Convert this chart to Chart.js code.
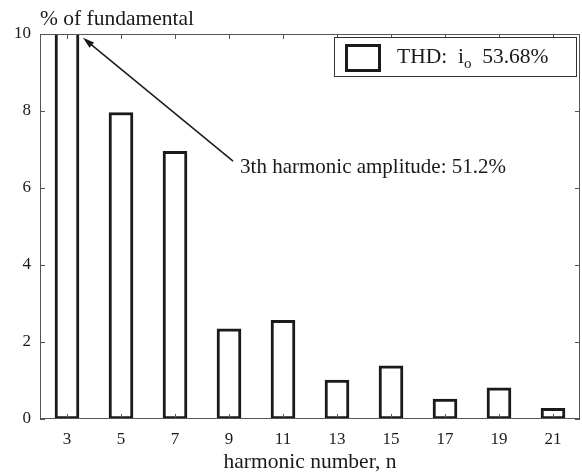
<!DOCTYPE html>
<html>
<head>
<meta charset="utf-8">
<script src="https://cdn.jsdelivr.net/npm/chart.js@4/dist/chart.umd.min.js"></script>
<style>
  body { margin: 0; background: #fff; }
  canvas { display: block; }
</style>
</head>
<body>
<canvas id="thdChart" width="582" height="472"></canvas>
<script>
// harmonic spectrum of the output current, % of fundamental
const harmonics = [3, 5, 7, 9, 11, 13, 15, 17, 19, 21];
const amplitude = [51.2, 7.96, 6.95, 2.34, 2.56, 1.01, 1.38, 0.52, 0.81, 0.28];
const yTicks = [0, 2, 4, 6, 8, 10];
const thdText = '53.68%';
const noteText = '3th harmonic amplitude: 51.2%';

const serif = "'Liberation Serif', 'DejaVu Serif', serif";
const ink = '#1a1a1a';
const bigFont = '21.5px ' + serif;

// box round the plot with inward ticks, legend, arrow note and axis titles
const framePlugin = {
  id: 'frame',
  afterDatasetsDraw(chart) {
    const ctx = chart.ctx;
    const a = chart.chartArea;
    const xs = chart.scales.x;
    const ys = chart.scales.y;
    ctx.save();

    ctx.strokeStyle = '#555';
    ctx.lineWidth = 1;
    ctx.strokeRect(Math.round(a.left) + 0.5, Math.round(a.top) + 0.5,
      Math.round(a.right - a.left) - 1, Math.round(a.bottom - a.top) - 1);

    const tick = 5;
    ctx.beginPath();
    harmonics.forEach(h => {
      const px = Math.round(xs.getPixelForValue(h)) + 0.5;
      ctx.moveTo(px, a.bottom); ctx.lineTo(px, a.bottom - tick);
      ctx.moveTo(px, a.top); ctx.lineTo(px, a.top + tick);
    });
    yTicks.forEach(v => {
      const py = Math.round(ys.getPixelForValue(v)) + 0.5;
      ctx.moveTo(a.left, py); ctx.lineTo(a.left + tick, py);
      ctx.moveTo(a.right, py); ctx.lineTo(a.right - tick, py);
    });
    ctx.stroke();

    // legend box
    const lx = a.right - 246, ly = a.top + 3, lw = 242, lh = 39;
    ctx.fillStyle = '#fff';
    ctx.fillRect(lx, ly, lw, lh);
    ctx.strokeStyle = '#333';
    ctx.lineWidth = 1;
    ctx.strokeRect(lx + 0.5, ly + 0.5, lw, lh);
    ctx.strokeStyle = ink;
    ctx.lineWidth = 3;
    ctx.strokeRect(lx + 12.5, ly + 8.5, 33, 25);

    ctx.fillStyle = ink;
    ctx.textBaseline = 'alphabetic';
    ctx.textAlign = 'left';
    ctx.font = bigFont;
    let tx = lx + 63;
    const base = ly + 26;
    ctx.fillText('THD:  i', tx, base);
    tx += ctx.measureText('THD:  i').width;
    ctx.font = '15px ' + serif;
    ctx.fillText('o', tx, base + 5);
    tx += ctx.measureText('o').width;
    ctx.font = bigFont;
    ctx.fillText('  ' + thdText, tx, base);

    // arrow to the clipped 3rd harmonic bar
    const tipX = xs.getPixelForValue(3.59), tipY = ys.getPixelForValue(9.9);
    const tailX = xs.getPixelForValue(9.15), tailY = ys.getPixelForValue(6.7);
    const ang = Math.atan2(tipY - tailY, tipX - tailX);
    ctx.strokeStyle = ink;
    ctx.lineWidth = 1.5;
    ctx.beginPath();
    ctx.moveTo(tailX, tailY);
    ctx.lineTo(tipX - 8 * Math.cos(ang), tipY - 8 * Math.sin(ang));
    ctx.stroke();
    ctx.beginPath();
    ctx.moveTo(tipX, tipY);
    ctx.lineTo(tipX - 12 * Math.cos(ang - 0.3), tipY - 12 * Math.sin(ang - 0.3));
    ctx.lineTo(tipX - 12 * Math.cos(ang + 0.3), tipY - 12 * Math.sin(ang + 0.3));
    ctx.closePath();
    ctx.fill();

    ctx.font = '21px ' + serif;
    ctx.fillText(noteText, xs.getPixelForValue(9.41), ys.getPixelForValue(6.39));

    // axis titles
    ctx.font = bigFont;
    ctx.fillText('% of fundamental', a.left, a.top - 9);
    ctx.textAlign = 'center';
    ctx.fillText('harmonic number, n', (a.left + a.right) / 2, a.bottom + 49);
    ctx.restore();
  }
};

const ctx = document.getElementById('thdChart').getContext('2d');
new Chart(ctx, {
  type: 'bar',
  data: {
    datasets: [{
      data: harmonics.map((h, i) => ({ x: h, y: amplitude[i] })),
      backgroundColor: '#fff',
      borderColor: ink,
      borderWidth: 3,
      borderSkipped: false,
      barThickness: 24,
      clip: 0
    }]
  },
  options: {
    responsive: false,
    animation: false,
    layout: { padding: { top: 34, right: 2, left: 0, bottom: 0 } },
    plugins: { legend: { display: false }, tooltip: { enabled: false } },
    scales: {
      x: {
        type: 'linear',
        offset: false,
        min: 2,
        max: 22,
        afterBuildTicks: s => { s.ticks = harmonics.map(v => ({ value: v })); },
        afterFit: s => { s.height = 53; },
        grid: { display: false, drawTicks: false, offset: false },
        border: { display: false },
        ticks: { padding: 10, color: ink, font: { family: serif, size: 17 } }
      },
      y: {
        min: 0,
        max: 10,
        afterBuildTicks: s => { s.ticks = yTicks.map(v => ({ value: v })); },
        afterFit: s => { s.width = 40; },
        grid: { display: false, drawTicks: false },
        border: { display: false },
        ticks: { padding: 9, color: ink, font: { family: serif, size: 17 } }
      }
    }
  },
  plugins: [framePlugin]
});
</script>
</body>
</html>
